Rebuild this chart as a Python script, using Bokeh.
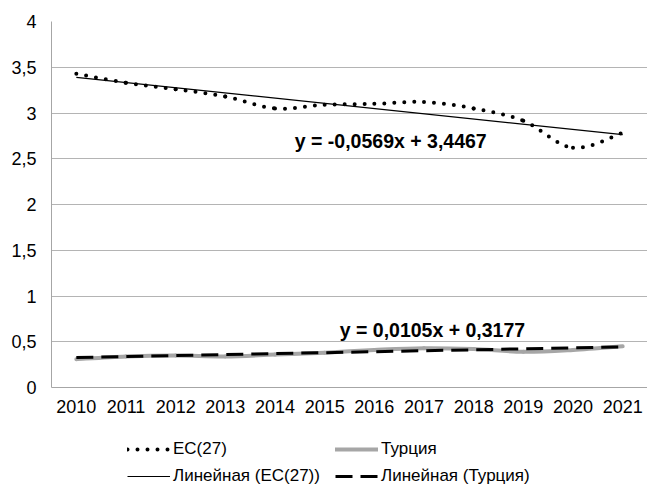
import numpy as np
from bokeh.plotting import figure
from bokeh.layouts import column
from bokeh.models import (Range1d, FixedTicker, CustomJSTickFormatter, Legend,
                          LegendItem, Label)
from bokeh.embed import file_html
from bokeh.resources import INLINE

# ---- data ----
years = ["2010", "2011", "2012", "2013", "2014", "2015",
         "2016", "2017", "2018", "2019", "2020", "2021"]
ec27 = [3.43, 3.33, 3.26, 3.18, 3.05, 3.09, 3.10, 3.12, 3.05, 2.915, 2.62, 2.785]
turkey = [0.31, 0.34, 0.35, 0.34, 0.36, 0.38, 0.41, 0.43, 0.42, 0.39, 0.41, 0.45]
ec_slope, ec_intercept = -0.0569, 3.4467
tr_slope, tr_intercept = 0.0105, 0.3177
ec_eq = "y = -0,0569x + 3,4467"
tr_eq = "y = 0,0105x + 0,3177"
y_ticks = [0, 0.5, 1, 1.5, 2, 2.5, 3, 3.5, 4]
legend_labels = ["ЕС(27)", "Турция", "Линейная (ЕС(27))", "Линейная (Турция)"]

FONT = "Liberation Sans"
idx = np.arange(len(years), dtype=float)

# styles
EC_STYLE = dict(line_color="black", line_width=4, line_cap="round", line_dash="0 10")
TR_STYLE = dict(line_color="#A6A6A6", line_width=4, line_cap="round")
ECT_STYLE = dict(line_color="black", line_width=1.2)
TRT_STYLE = dict(line_color="black", line_width=3, line_dash="17 8")


def smooth_segments(xs, ys):
    """Bezier control points (Catmull-Rom style, like Excel's smoothed line)."""
    xs = np.asarray(xs, float)
    ys = np.asarray(ys, float)
    n = len(xs)
    seg = dict(x0=[], y0=[], x1=[], y1=[], cx0=[], cy0=[], cx1=[], cy1=[])
    for i in range(n - 1):
        a = max(i - 1, 0)
        b = min(i + 2, n - 1)
        seg["x0"].append(xs[i]); seg["y0"].append(ys[i])
        seg["x1"].append(xs[i + 1]); seg["y1"].append(ys[i + 1])
        seg["cx0"].append(xs[i] + (xs[i + 1] - xs[a]) / 6)
        seg["cy0"].append(ys[i] + (ys[i + 1] - ys[a]) / 6)
        seg["cx1"].append(xs[i + 1] - (xs[b] - xs[i]) / 6)
        seg["cy1"].append(ys[i + 1] - (ys[b] - ys[i]) / 6)
    return seg


p = figure(width=647, height=427,
           min_border_left=51, min_border_top=21, min_border_right=0,
           min_border_bottom=40,
           x_range=Range1d(-0.5, len(years) - 0.5), y_range=Range1d(0, 4),
           output_backend="svg", toolbar_location=None)
p.outline_line_color = None
p.background_fill_color = "white"
p.border_fill_color = "white"

# axes
p.xaxis.ticker = FixedTicker(ticks=list(idx))
p.xaxis.formatter = CustomJSTickFormatter(args=dict(years=years),
                                          code="return years[Math.round(tick)]")
p.yaxis.ticker = FixedTicker(ticks=y_ticks)
p.yaxis.formatter = CustomJSTickFormatter(code="return tick.toString().replace('.', ',')")
for ax in (p.xaxis, p.yaxis):
    ax.axis_line_color = "#A6A6A6"
    ax.axis_line_width = 1
    ax.major_tick_line_color = None
    ax.minor_tick_line_color = None
    ax.major_label_text_font = FONT
    ax.major_label_text_font_size = "18px"
    ax.major_label_text_color = "black"
p.xaxis.major_label_standoff = 6
p.yaxis.major_label_standoff = 9
p.xgrid.visible = False
p.ygrid.ticker = FixedTicker(ticks=y_ticks)
p.ygrid.grid_line_color = "#B4B4B4"
p.ygrid.grid_line_width = 1

# series (smoothed)
p.bezier(source=smooth_segments(idx, turkey), x0="x0", y0="y0", x1="x1", y1="y1",
         cx0="cx0", cy0="cy0", cx1="cx1", cy1="cy1", **TR_STYLE)
p.bezier(source=smooth_segments(idx, ec27), x0="x0", y0="y0", x1="x1", y1="y1",
         cx0="cx0", cy0="cy0", cx1="cx1", cy1="cy1", **EC_STYLE)

# trend lines
ends = np.array([idx[0], idx[-1]])
ec_trend = ec_slope * (ends + 1) + ec_intercept
tr_trend = tr_slope * (ends + 1) + tr_intercept
p.line(ends, ec_trend, **ECT_STYLE)
p.line(ends, tr_trend, **TRT_STYLE)

# equation labels
for x, y, t in ((6.33, 2.69, ec_eq), (7.17, 0.623, tr_eq)):
    p.add_layout(Label(x=x, y=y, text=t, text_align="center",
                       text_baseline="middle", text_font=FONT,
                       text_font_size="19.5px", text_font_style="bold",
                       text_color="black"))

# ---- legend strip (its sample glyphs lie outside its visible range) ----
q = figure(width=647, height=59, x_range=Range1d(0, 1), y_range=Range1d(10, 11),
           x_axis_type=None, y_axis_type=None, min_border=0,
           output_backend="svg", toolbar_location=None)
q.outline_line_color = None
q.xgrid.visible = False
q.ygrid.visible = False
samples = [q.line(idx, ec27, **EC_STYLE), q.line(idx, turkey, **TR_STYLE),
           q.line(ends, ec_trend, **ECT_STYLE), q.line(ends, tr_trend, **TRT_STYLE)]


def make_legend(items, loc):
    lg = Legend(items=items, orientation="horizontal", location=loc)
    lg.padding = 0
    lg.margin = 0
    lg.spacing = 2
    lg.glyph_width = 43
    lg.glyph_height = 20
    lg.label_height = 20
    lg.label_width = 160
    lg.label_standoff = 3
    lg.label_text_font = FONT
    lg.label_text_font_size = "17px"
    lg.label_text_color = "black"
    lg.border_line_color = None
    lg.background_fill_alpha = 0
    return lg


q.add_layout(make_legend([LegendItem(label=legend_labels[0], renderers=[samples[0]]),
                          LegendItem(label=legend_labels[1], renderers=[samples[1]])],
                         (76, 27)))
q.add_layout(make_legend([LegendItem(label=legend_labels[2], renderers=[samples[2]]),
                          LegendItem(label=legend_labels[3], renderers=[samples[3]])],
                         (76, 0)))

layout = column(p, q, spacing=0)
open("out.html", "w").write(file_html(layout, INLINE))
